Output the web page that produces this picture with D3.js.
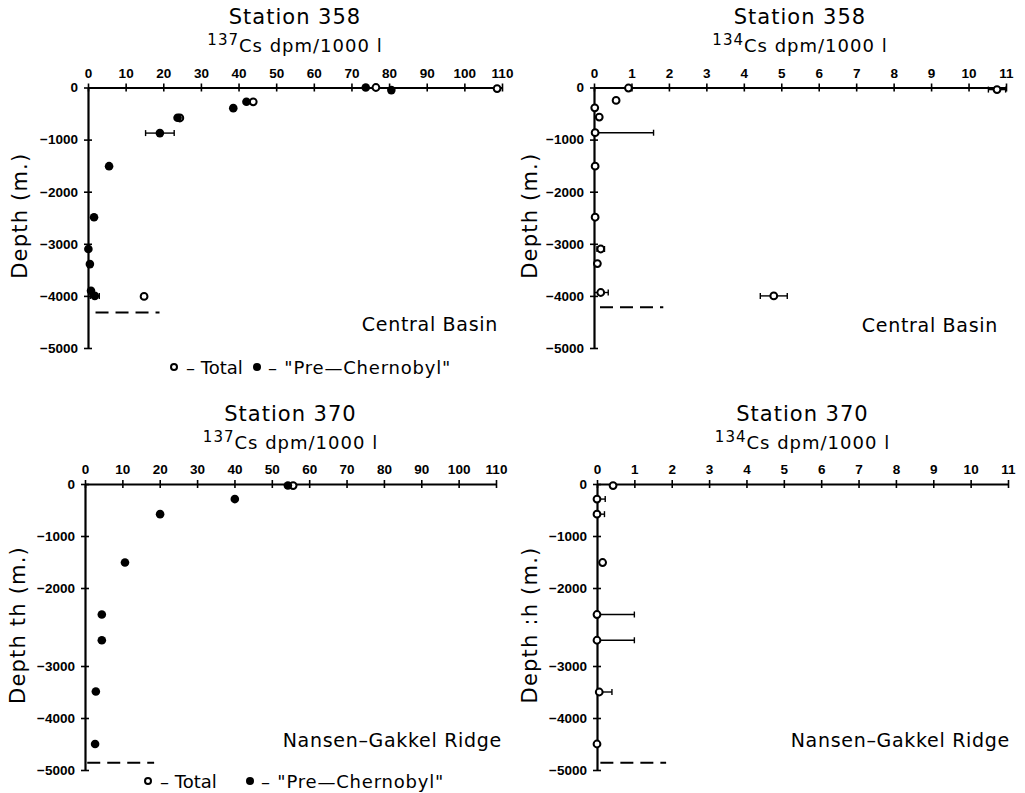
<!DOCTYPE html>
<html>
<head>
<meta charset="utf-8">
<script src="https://cdn.jsdelivr.net/npm/d3@7"></script>
<style>
body{margin:0;background:#fff;}
text{font-family:"DejaVu Sans",sans-serif;fill:#000;}
.tick text{font-family:"Liberation Sans",Arial,sans-serif;font-weight:bold;font-size:13.5px;}
</style>
</head>
<body>
<script>
//tick labels
var cs137Ticks = [0,10,20,30,40,50,60,70,80,90,100,110];
var cs134Ticks = [0,1,2,3,4,5,6,7,8,9,10,11];
var depthTicks = [0,-1000,-2000,-3000,-4000,-5000];

//points are [activity, depth (m), error]
//station 358, 137Cs
var s358Cs137Total = [[76.5,0],[108.7,-20],[43.9,-274],[24.4,-585],[14.9,-4010]];
var s358Cs137Pre = [[73.8,0],[80.6,-50],[42.1,-274],[38.6,-396],[23.8,-581],[19.1,-875,3.8],
	[5.6,-1510],[1.6,-2490],[0.1,-3100],[0.5,-3390],[0.8,-3900],[1.8,-4000,1.2]];
var s358Cs137Floor = [-4320,2,19]; //depth, from, to

//station 358, 134Cs
var s358Cs134Total = [[0.92,-10],[10.76,-40,0.23],[0.59,-249],[0.02,-390],[0.14,-568],[0.03,-868,1.56],
	[0.03,-1510],[0.03,-2490],[0.18,-3100,0.1],[0.09,-3380],[0.18,-3935,0.2],[4.8,-4000,0.36]];
var s358Cs134Floor = [-4220,0.16,1.85];

//station 370, 137Cs
var s370Cs137Total = [[55.7,-30]];
var s370Cs137Pre = [[54.3,-30],[40.1,-290],[20.1,-580],[10.7,-1510],[4.5,-2340],[4.5,-2670],[2.9,-3490],[2.7,-4500]];
var s370Cs137Floor = [-4860,0.6,18.5];

//station 370, 134Cs
var s370Cs134Total = [[0.43,-30],[0,-290,0.22],[0,-580,0.2],[0.15,-1510],[0,-2340,1.0],[0,-2670,1.0],[0.06,-3500,0.34],[0,-4500]];
var s370Cs134Floor = [-4860,0.09,1.85];

var svg = d3.select("body").append("svg")
	.attr("width",1025)
	.attr("height",793);

//top row has an even depth axis, the scanned bottom row is stretched between -2000 and -3000
var yTop = d3.scaleLinear().domain([0,-5000]).range([87.5,348]);
var yBottom = d3.scaleLinear().domain(depthTicks).range([484,536,588,666,718,770]);

var panels = [
	{station:"Station 358", iso:"137", ticks:cs137Ticks, xr:[88,502], y:yTop, top:24, yTitle:"Depth (m.)", tx:20,
	 total:s358Cs137Total, pre:s358Cs137Pre, floor:s358Cs137Floor, region:"Central Basin", rx:498, ry:331,
	 legend:[174,367,83]},
	{station:"Station 358", iso:"134", ticks:cs134Ticks, xr:[594,1006], y:yTop, top:24, yTitle:"Depth (m.)", tx:530,
	 total:s358Cs134Total, pre:[], floor:s358Cs134Floor, region:"Central Basin", rx:998, ry:332},
	{station:"Station 370", iso:"137", ticks:cs137Ticks, xr:[85,496], y:yBottom, top:421, yTitle:"Depth th (m.)", tx:18,
	 total:s370Cs137Total, pre:s370Cs137Pre, floor:s370Cs137Floor, region:"Nansen\u2013Gakkel Ridge", rx:502, ry:747,
	 legend:[148,781,102]},
	{station:"Station 370", iso:"134", ticks:cs134Ticks, xr:[597,1008], y:yBottom, top:421, yTitle:"Depth :h (m.)", tx:530,
	 total:s370Cs134Total, pre:[], floor:s370Cs134Floor, region:"Nansen\u2013Gakkel Ridge", rx:1010, ry:747}
];

panels.forEach(drawPanel);

function drawPanel(p){
	var x = d3.scaleLinear()
		.domain([p.ticks[0], p.ticks[p.ticks.length-1]])
		.range(p.xr);
	var y = p.y;
	var g = svg.append("g");
	var cx = (p.xr[0]+p.xr[1])/2;

	//titles
	g.append("text")
		.attr("x",cx).attr("y",p.top)
		.attr("text-anchor","middle")
		.style("font-size","21px")
		.style("letter-spacing","1px")
		.text(p.station);
	var sub = g.append("text")
		.attr("x",cx).attr("y",p.top+28)
		.attr("text-anchor","middle")
		.style("font-size","18px")
		.style("letter-spacing","1px");
	sub.append("tspan").attr("dy",-7).style("font-size","15px").text(p.iso);
	sub.append("tspan").attr("dy",7).text("Cs dpm/1000 l");

	//x axis along the surface
	g.append("g")
		.attr("transform","translate(0,"+y(0)+")")
		.call(d3.axisTop(x).tickValues(p.ticks).tickSizeOuter(0).tickSizeInner(4).tickPadding(6))
		.call(styleAxis)
		.call(function(a){ a.selectAll(".tick line").attr("y1",-4).attr("y2",4); });

	//depth axis
	g.append("g")
		.attr("transform","translate("+x(0)+",0)")
		.call(d3.axisLeft(y).tickValues(depthTicks).tickSizeOuter(0).tickSizeInner(4).tickPadding(6)
			.tickFormat(function(d){ return d===0 ? "0" : "\u2212"+Math.abs(d); }))
		.call(styleAxis)
		.call(function(a){ a.selectAll(".tick line").attr("x1",-4).attr("x2",4); });

	var yMid = (y(0)+y(-5000))/2 - 2;
	g.append("text")
		.attr("transform","translate("+(p.tx+7)+","+yMid+") rotate(-90)")
		.attr("text-anchor","middle")
		.style("font-size","21px")
		.style("letter-spacing","1.2px")
		.text(p.yTitle);

	//sea floor
	g.append("line")
		.attr("x1",x(p.floor[1])).attr("x2",x(p.floor[2]))
		.attr("y1",y(p.floor[0])).attr("y2",y(p.floor[0]))
		.attr("stroke","#000").attr("stroke-width",2)
		.attr("stroke-dasharray","13,7");

	//error bars, cut at zero
	var withErr = p.total.concat(p.pre).filter(function(d){ return d[2]; });
	withErr.forEach(function(d){
		var lo = Math.max(0,d[0]-d[2]), hi = d[0]+d[2];
		g.append("line")
			.attr("x1",x(lo)).attr("x2",x(hi))
			.attr("y1",y(d[1])).attr("y2",y(d[1]))
			.attr("stroke","#000").attr("stroke-width",1.4);
		[lo,hi].forEach(function(e){
			if(e===0 && d[0]-d[2]<0) return;
			g.append("line")
				.attr("x1",x(e)).attr("x2",x(e))
				.attr("y1",y(d[1])-3).attr("y2",y(d[1])+3)
				.attr("stroke","#000").attr("stroke-width",1.4);
		});
	});

	//total (open) under pre-Chernobyl (filled)
	g.selectAll(".total")
		.data(p.total)
		.enter()
		.append("circle")
		.attr("class","total")
		.attr("cx",function(d){ return x(d[0]); })
		.attr("cy",function(d){ return y(d[1]); })
		.attr("r",3.4)
		.attr("fill","#fff")
		.attr("stroke","#000")
		.attr("stroke-width",2);

	g.selectAll(".pre")
		.data(p.pre)
		.enter()
		.append("circle")
		.attr("class","pre")
		.attr("cx",function(d){ return x(d[0]); })
		.attr("cy",function(d){ return y(d[1]); })
		.attr("r",4.3)
		.attr("fill","#000");

	g.append("text")
		.attr("x",p.rx).attr("y",p.ry)
		.attr("text-anchor","end")
		.style("font-size","19px")
		.style("letter-spacing","0.7px")
		.text(p.region);

	if(p.legend) drawLegend(g,p.legend[0],p.legend[1],p.legend[2]);
}

function styleAxis(a){
	a.select(".domain").attr("stroke","#000").attr("stroke-width",2.2);
	a.selectAll(".tick line").attr("stroke","#000").attr("stroke-width",1.6);
	a.selectAll(".tick text").attr("fill","#000");
}

function drawLegend(g,lx,ly,gap){
	g.append("circle")
		.attr("cx",lx).attr("cy",ly).attr("r",3)
		.attr("fill","#fff").attr("stroke","#000").attr("stroke-width",2);
	g.append("text")
		.attr("x",lx+12).attr("y",ly+7)
		.style("font-size","18px")
		.text("\u2013 Total");
	g.append("circle")
		.attr("cx",lx+gap).attr("cy",ly).attr("r",4)
		.attr("fill","#000");
	g.append("text")
		.attr("x",lx+gap+11).attr("y",ly+7)
		.style("font-size","18px")
		.style("letter-spacing","0.8px")
		.text("\u2013 \"Pre\u2014Chernobyl\"");
}
</script>
</body>
</html>
